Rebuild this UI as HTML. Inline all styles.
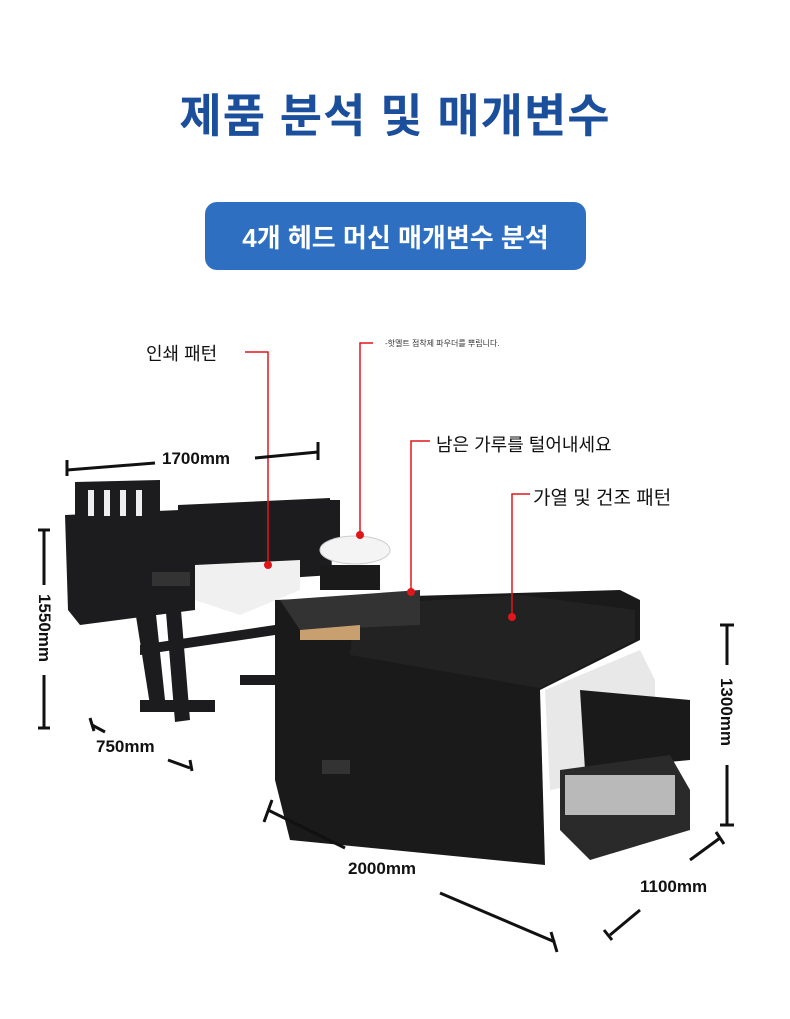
<!DOCTYPE html>
<html><head><meta charset="utf-8"><style>
html,body{margin:0;padding:0;background:#fff;}
body{width:790px;height:1019px;position:relative;overflow:hidden;font-family:"Liberation Sans","Noto Sans CJK KR",sans-serif;}
.t{position:absolute;white-space:nowrap;}
</style></head><body>
<div class="t" style="left:0;width:790px;top:80px;text-align:center;font-size:46px;font-weight:bold;color:#1b4f9c;letter-spacing:1px;">제품 분석 및 매개변수</div>
<div style="position:absolute;left:205px;top:202px;width:381px;height:68px;border-radius:12px;background:#2f6fc2;"></div>
<div class="t" style="left:205px;width:381px;top:218px;text-align:center;font-size:26px;font-weight:bold;color:#fff;">4개 헤드 머신 매개변수 분석</div>

<svg width="790" height="1019" style="position:absolute;left:0;top:0" xmlns="http://www.w3.org/2000/svg">
<!-- printer -->
<g fill="#1c1c1e">
<polygon points="65,515 180,510 195,520 195,610 80,625 68,610"/>
<polygon points="75,482 160,480 160,520 75,522"/>
<polygon points="178,505 330,498 332,575 178,585"/>
<rect x="310" y="500" width="30" height="55"/>
<polygon points="135,610 155,605 165,700 150,705"/>
<polygon points="165,600 180,598 190,720 175,722"/>
<rect x="140" y="700" width="75" height="12"/>
<rect x="240" y="675" width="40" height="10"/>
<polygon points="140,645 275,625 275,635 140,655"/>
</g>
<g fill="#eee"><rect x="88" y="490" width="6" height="26"/><rect x="104" y="490" width="6" height="26"/><rect x="120" y="490" width="6" height="26"/><rect x="136" y="490" width="6" height="26"/></g>
<rect x="152" y="572" width="38" height="14" fill="#333"/>
<polygon points="195,565 300,560 300,590 240,615 195,600" fill="#f0f0f0"/>
<!-- shaker -->
<polygon points="275,600 620,590 640,600 640,640 540,690 545,865 290,840 275,780" fill="#1a1a1a"/>
<polygon points="355,605 520,595 635,610 635,640 540,688 350,655" fill="#222"/>
<polygon points="280,600 420,590 420,625 300,630" fill="#333"/>
<polygon points="300,630 360,625 360,640 300,640" fill="#c8a070"/>
<polygon points="545,690 640,650 655,680 655,770 550,790" fill="#e8e8e8"/>
<polygon points="580,690 690,700 690,760 585,770" fill="#1a1a1a"/>
<polygon points="560,770 670,755 690,790 690,830 590,860 560,830" fill="#2a2a2a"/>
<rect x="565" y="775" width="110" height="40" fill="#ddd" opacity=".8"/>
<rect x="320" y="565" width="60" height="25" fill="#1a1a1a"/>
<ellipse cx="355" cy="550" rx="35" ry="14" fill="#f4f4f4" stroke="#ccc"/>
<rect x="322" y="760" width="28" height="14" fill="#333"/>
<!-- red callouts -->
<g stroke="#e0161b" stroke-width="1.5" fill="none">
<polyline points="245,352 268,352 268,565"/>
<polyline points="373,343 360,343 360,535"/>
<polyline points="430,441 411,441 411,592"/>
<polyline points="530,494 512,494 512,617"/>
</g>
<g fill="#e0161b"><circle cx="268" cy="565" r="4"/><circle cx="360" cy="535" r="4"/><circle cx="411" cy="592" r="4"/><circle cx="512" cy="617" r="4"/></g>
<!-- dimensions -->
<g stroke="#111" stroke-width="3" fill="none">
<line x1="67" y1="470" x2="155" y2="463"/><line x1="67" y1="460" x2="67" y2="476"/>
<line x1="255" y1="458" x2="318" y2="452"/><line x1="318" y1="442" x2="318" y2="460"/>
<line x1="44" y1="530" x2="44" y2="585"/><line x1="38" y1="530" x2="50" y2="530"/>
<line x1="44" y1="675" x2="44" y2="728"/><line x1="38" y1="728" x2="50" y2="728"/>
<line x1="92" y1="725" x2="105" y2="732"/><line x1="90" y1="718" x2="94" y2="731"/>
<line x1="168" y1="760" x2="190" y2="768"/><line x1="190" y1="760" x2="192" y2="771"/>
<line x1="268" y1="810" x2="345" y2="848"/><line x1="264" y1="822" x2="272" y2="800"/>
<line x1="440" y1="893" x2="555" y2="942"/><line x1="551" y1="932" x2="557" y2="952"/>
<line x1="727" y1="625" x2="727" y2="665"/><line x1="720" y1="625" x2="734" y2="625"/>
<line x1="727" y1="765" x2="727" y2="825"/><line x1="720" y1="825" x2="734" y2="825"/>
<line x1="690" y1="860" x2="720" y2="838"/><line x1="716" y1="832" x2="724" y2="844"/>
<line x1="610" y1="935" x2="640" y2="910"/><line x1="604" y1="930" x2="612" y2="940"/>
</g>
</svg>
<div class="t" style="left:146px;top:340px;font-size:18px;color:#111;">인쇄 패턴</div>
<div class="t" style="left:385px;top:338px;font-size:8px;color:#333;">-핫멜트 점착제 파우더를 뿌립니다.</div>
<div class="t" style="left:436px;top:431px;font-size:18px;color:#111;">남은 가루를 털어내세요</div>
<div class="t" style="left:533px;top:483px;font-size:19px;color:#111;">가열 및 건조 패턴</div>
<div class="t" style="left:162px;top:449px;font-size:17px;font-weight:bold;color:#111;">1700mm</div>
<div class="t" style="left:96px;top:737px;font-size:17px;font-weight:bold;color:#111;">750mm</div>
<div class="t" style="left:348px;top:859px;font-size:17px;font-weight:bold;color:#111;">2000mm</div>
<div class="t" style="left:640px;top:877px;font-size:17px;font-weight:bold;color:#111;">1100mm</div>
<div class="t" style="left:4px;top:618px;font-size:17px;font-weight:bold;color:#111;transform:rotate(90deg);transform-origin:center;width:80px;text-align:center;">1550mm</div>
<div class="t" style="left:686px;top:702px;font-size:17px;font-weight:bold;color:#111;transform:rotate(90deg);transform-origin:center;width:80px;text-align:center;">1300mm</div>
</body></html>
